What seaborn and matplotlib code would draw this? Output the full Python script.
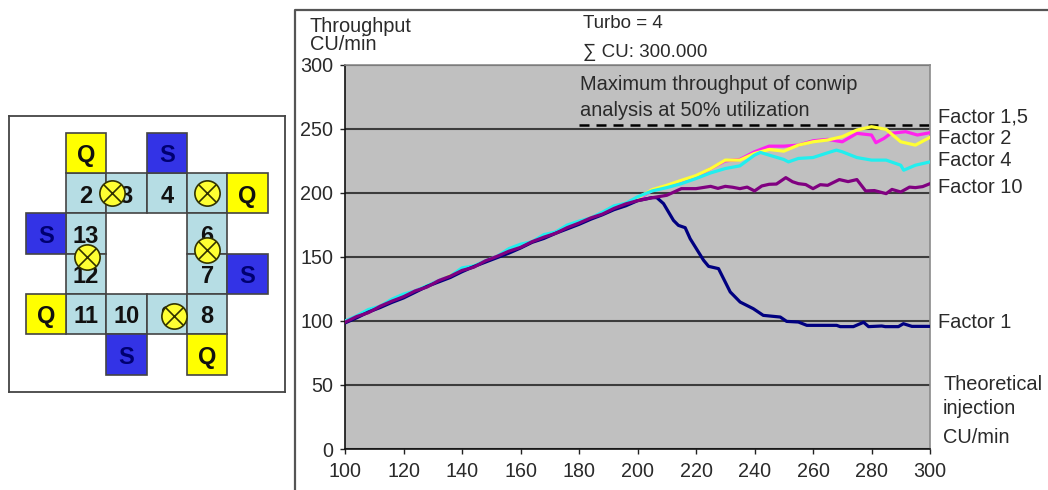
import numpy as np
import pandas as pd
import matplotlib
matplotlib.use('Agg')
import matplotlib.pyplot as plt
from matplotlib.lines import Line2D
from matplotlib.patches import Rectangle
import seaborn as sns

W, H = 1048, 490

# Shared rise of all runs, theoretical injection vs throughput
rise_x = [100, 104, 108, 112, 116, 120, 124, 128, 132, 136, 140, 144, 148, 152, 156, 160, 164, 168, 172, 176, 180, 184, 188, 192, 196, 200]
navy_rise = [98.5, 102.5, 107, 110.5, 114.5, 118, 122.5, 127, 130.5, 134, 138.5, 142.5, 146, 149.5, 153, 157, 161.5, 164.5, 168.5, 172, 175.5, 179.5, 183, 187, 190, 194]
purple_rise = [99, 103.5, 106.5, 111.5, 115.5, 119, 123.5, 126.5, 131.5, 135, 139.5, 142, 147, 150.5, 154.5, 157.5, 162, 165.5, 168.5, 173, 176.5, 180.5, 183.5, 188, 191.5, 194]
cyan_rise = [100, 104, 109, 111.5, 117, 121, 123.5, 127.5, 131.5, 135, 141.5, 143, 147, 150.5, 156.5, 160, 162, 167.5, 169.5, 175, 178, 180.5, 185, 190, 192, 197]
yellow_rise = [99, 103.5, 107.5, 111, 115, 119.5, 123, 127.5, 131, 135.5, 139, 143, 146.5, 150, 154.5, 158, 161.5, 165.5, 169, 173, 176, 180.5, 184, 188, 191.5, 196]
magenta_rise = [99.5, 103, 107, 111.5, 115, 119, 123.5, 127, 131.5, 135, 139.5, 142.5, 146.5, 150.5, 154, 158.5, 161.5, 165, 169.5, 172.5, 176.5, 180, 184.5, 187.5, 191, 195]

# Factor 1
navy_x = [205, 206.6, 208.9, 212.3, 214, 216.3, 218, 222.6, 224.3, 227.7, 231.7, 235.1, 239.6, 243, 248.8, 251,
          255, 257.9, 268.1, 269.3, 273.8, 277.3, 279, 283.5, 284.7, 289.2, 290.9, 293.8, 300]
navy_y = [196.4, 196.4, 191.7, 178.6, 174.7, 172.9, 164.3, 147.4, 142.7, 140.9, 122.7, 114.8, 109.6, 104.4, 103.1, 99.7,
          99.2, 96.6, 96.6, 95.6, 95.6, 99, 95.6, 96.1, 95.6, 95.6, 97.9, 95.8, 95.8]

# Factor 10
purple_x = [205, 210, 215, 220, 225, 227.5, 230, 232.5, 235, 237.5, 240, 242.5, 245, 247.5, 250.7, 253, 255, 257.5,
            260, 262.5, 265, 269, 272, 275, 278, 281, 285, 287, 290, 293, 295, 297.5, 300]
purple_y = [196.3, 198.2, 203.4, 203.4, 205.2, 203.6, 205.2, 204.5, 203.4, 204.6, 201.6, 205.5, 206.8, 207, 212, 208.8, 207.3, 206.6,
            203.4, 206.5, 206, 210.5, 208.9, 210.5, 201.6, 201.9, 199.5, 202.8, 200.8, 204.6, 204.2, 205, 207.3]

# Factor 4
cyan_x = [205, 210, 215, 220, 225, 230, 235, 240, 242, 245, 250, 251.6, 255, 260, 265, 268, 270, 275, 280, 285, 290, 291, 295, 300]
cyan_y = [201.6, 204.2, 207.3, 211.3, 215.7, 219.1, 221.2, 229.6, 231.7, 229.6, 226.2, 224.3, 227, 227.7, 231.4, 233.5, 232.2,
          227.7, 225.7, 225.7, 221.7, 217.8, 221.7, 224.3]

# Factor 1,5
yellow_x = [205, 210, 215, 220, 225, 230, 235, 240, 245, 250, 255, 260, 265, 270, 275, 280, 285, 290, 295, 300]
yellow_y = [202.6, 206, 209.9, 213.6, 219.1, 225.7, 225.7, 230.9, 234, 232.7, 237.4, 240, 241.4, 244, 249.2, 251.8, 249.7, 240, 237.4, 243.5]

# Factor 2
magenta_x = [205, 210, 215, 220, 225, 230, 235, 240, 245, 250, 255, 260, 265, 270, 275, 280, 281.5, 284.3, 286.6, 291.7, 295.7, 300]
magenta_y = [202.1, 205.2, 209.2, 212.6, 219.1, 225.1, 226.2, 232.2, 236.6, 236.6, 237.4, 240.8, 241.9, 240, 246.6, 245.3,
             239.3, 242.7, 246.6, 247.9, 245.3, 247.1]

max_conwip = 253
max_from = 180

# Ring layout: col, row, label
track_col = [1, 2, 3, 4, 1, 4, 1, 4, 1, 2, 3, 4]
track_row = [1, 1, 1, 1, 2, 2, 3, 3, 4, 4, 4, 4]
track_lab = ['2', '3', '4', '5', '13', '6', '12', '7', '11', '10', '9', '8']
q_col = [1, 5, 0, 4]
q_row = [0, 1, 4, 5]
s_col = [3, 0, 5, 2]
s_row = [0, 2, 3, 5]
lamp_col = [2.15, 4.5, 1.52, 4.5, 3.68]
lamp_row = [1.5, 1.5, 3.08, 2.92, 4.55]

plt.rcParams['font.family'] = ['Liberation Sans', 'DejaVu Sans']


def px_box(x0, y0, x1, y1):
    return [x0 / W, 1 - y1 / H, (x1 - x0) / W, (y1 - y0) / H]


def label(x, y, s, size=14.4):
    fig.text(x / W, 1 - y / H, s, fontsize=size, va='center', ha='left', color='#2a2a2a')


fig = plt.figure(figsize=(W / 100, H / 100), dpi=100)

# throughput chart
ax = fig.add_axes(px_box(345, 65, 930, 449))
ax.set_facecolor('#c0c0c0')
rows = []
for name, xs, ys in [
    ('Factor 2', rise_x + magenta_x, magenta_rise + magenta_y),
    ('Factor 1,5', rise_x + yellow_x, yellow_rise + yellow_y),
    ('Factor 4', rise_x + cyan_x, cyan_rise + cyan_y),
    ('Factor 1', rise_x + navy_x, navy_rise + navy_y),
    ('Factor 10', rise_x + purple_x, purple_rise + purple_y),
]:
    rows.append(pd.DataFrame({'inj': xs, 'thr': ys, 'factor': name}))
df = pd.concat(rows)
palette = {'Factor 1': '#000080', 'Factor 1,5': '#ffff33', 'Factor 2': '#ff22ee',
           'Factor 4': '#22eeee', 'Factor 10': '#800080'}
sns.lineplot(data=df, x='inj', y='thr', hue='factor', palette=palette, estimator=None, sort=False,
             linewidth=2.3, legend=False, ax=ax, zorder=3)
ax.plot([max_from, 300], [max_conwip, max_conwip], color='black', lw=1.8, dashes=(4, 2.8), zorder=2.5)
ax.set_xlim(100, 300)
ax.set_ylim(0, 300)
ax.set_xticks(np.arange(100, 301, 20))
ax.set_yticks(np.arange(0, 301, 50))
ax.set_xlabel('')
ax.set_ylabel('')
ax.yaxis.grid(True, color='#3c3c3c', lw=1.5)
ax.set_axisbelow(True)
ax.tick_params(axis='both', labelsize=14.2, length=3.5, width=1, color='#222222', labelcolor='#2a2a2a')
ax.tick_params(axis='y', pad=5)
ax.tick_params(axis='x', pad=6)
for side in ['left', 'bottom']:
    ax.spines[side].set_color('#111111')
    ax.spines[side].set_linewidth(1.2)
for side in ['top', 'right']:
    ax.spines[side].set_color('#8a8a8a')
    ax.spines[side].set_linewidth(1.2)

# outer frame of the chart, runs off the page
fig.add_artist(Line2D([295 / W, 295 / W, 1], [0, 1 - 10 / H, 1 - 10 / H], color='#555555', lw=1.6))

label(310, 26, 'Throughput')
label(310, 44, 'CU/min')
label(583, 24, 'Turbo = 4', 13.5)
label(583, 52, '∑ CU: 300.000', 13.5)
label(580, 85, 'Maximum throughput of conwip')
label(580, 110, 'analysis at 50% utilization')
label(938, 117, 'Factor 1,5')
label(938, 138, 'Factor 2')
label(938, 161, 'Factor 4')
label(938, 187, 'Factor 10')
label(938, 322, 'Factor 1')
label(943, 384, 'Theoretical')
label(943, 408, 'injection')
label(943, 437, 'CU/min')

# ring diagram, cell units
ring = fig.add_axes(px_box(9, 116, 285, 392))
ring.set_xlim(-0.414, 6.43)
ring.set_ylim(6.43, -0.414)
ring.set_xticks([])
ring.set_yticks([])
for sp in ring.spines.values():
    sp.set_color('#444444')
    sp.set_linewidth(1.3)


def cells(cols, rows_, face, labels, color):
    for c, r, t in zip(cols, rows_, labels):
        ring.add_patch(Rectangle((c, r), 1, 1, facecolor=face, edgecolor='#444444', lw=1.2))
        ring.text(c + 0.5, r + 0.57, t, ha='center', va='center', fontsize=17, fontweight='bold', color=color)


cells(track_col, track_row, '#b6dde4', track_lab, '#111111')
cells(q_col, q_row, '#ffff00', ['Q'] * 4, '#111111')
cells(s_col, s_row, '#3333e6', ['S'] * 4, '#000070')
sns.scatterplot(x=lamp_col, y=lamp_row, s=330, color='#ffff33', edgecolor='#333300', linewidth=1.2,
                ax=ring, zorder=5, legend=False, clip_on=False)
sns.scatterplot(x=lamp_col, y=lamp_row, s=170, marker='x', color='#333300', linewidth=1.2,
                ax=ring, zorder=6, legend=False)
ring.set_xlim(-0.414, 6.43)
ring.set_ylim(6.43, -0.414)

fig.savefig('out.png', dpi=100)
